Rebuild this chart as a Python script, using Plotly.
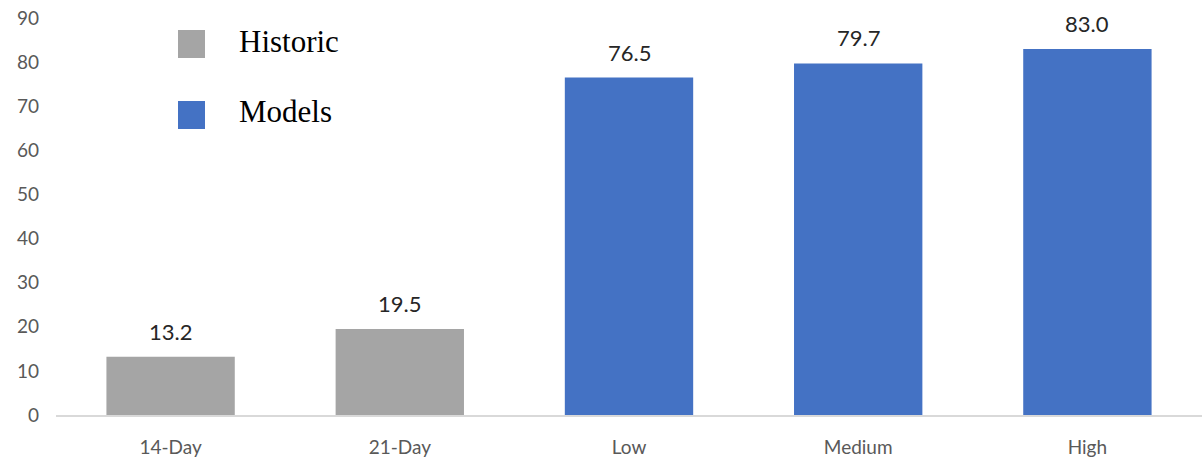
import plotly.graph_objects as go

categories = ["14-Day", "21-Day", "Low", "Medium", "High"]
historic_cats = ["14-Day", "21-Day"]
historic_vals = [13.2, 19.5]
model_cats = ["Low", "Medium", "High"]
model_vals = [76.5, 79.7, 83.0]
y_ticks = [0, 10, 20, 30, 40, 50, 60, 70, 80, 90]

W, H = 1202, 462
ML, MR, MT, MB = 56, 0, 18, 47
PW, PH = W - ML - MR, H - MT - MB

def px_x(px):
    return (px - ML) / PW

def px_y(py):
    return (H - MB - py) / PH

GRAY = "#A5A5A5"
BLUE = "#4472C4"

fig = go.Figure()
fig.add_trace(go.Bar(x=historic_cats, y=historic_vals, name="Historic",
                     marker=dict(color=GRAY, line=dict(width=0)), showlegend=False))
fig.add_trace(go.Bar(x=model_cats, y=model_vals, name="Models",
                     marker=dict(color=BLUE, line=dict(width=0)), showlegend=False))

annotations = []
for c, v in list(zip(historic_cats, historic_vals)) + list(zip(model_cats, model_vals)):
    annotations.append(dict(x=c, y=v, xref="x", yref="y", text=f"{v:.1f}",
                            showarrow=False, yanchor="bottom", yshift=10,
                            font=dict(family="Lato", size=22, color="#262626")))

# legend drawn manually
legend_items = [("Historic", GRAY, 30), ("Models", BLUE, 101)]
shapes = []
for name, col, top in legend_items:
    shapes.append(dict(type="rect", xref="paper", yref="paper",
                       x0=px_x(178), x1=px_x(205), y0=px_y(top + 28), y1=px_y(top),
                       fillcolor=col, line=dict(width=0)))
    annotations.append(dict(x=px_x(237), y=px_y(top + 11), xref="paper", yref="paper",
                            text=name, showarrow=False, xanchor="left", yanchor="middle",
                            font=dict(family="Liberation Serif", size=31, color="#000000")))

fig.update_layout(
    width=W, height=H,
    margin=dict(l=ML, r=MR, t=MT, b=MB),
    paper_bgcolor="white", plot_bgcolor="white",
    barmode="overlay", bargap=0.44,
    shapes=shapes, annotations=annotations,
    showlegend=False,
    xaxis=dict(categoryorder="array", categoryarray=categories,
               showline=True, linecolor="#D9D9D9", linewidth=1.5,
               ticks="", showgrid=False, zeroline=False, ticklabelstandoff=14,
               tickfont=dict(family="Lato", size=19, color="#595959")),
    yaxis=dict(range=[0, 90], tickvals=y_ticks, showgrid=False, zeroline=False,
               showline=False, ticks="", ticklabelstandoff=16,
               tickfont=dict(family="Lato", size=19, color="#595959")),
)

fig.write_html("out.html")
